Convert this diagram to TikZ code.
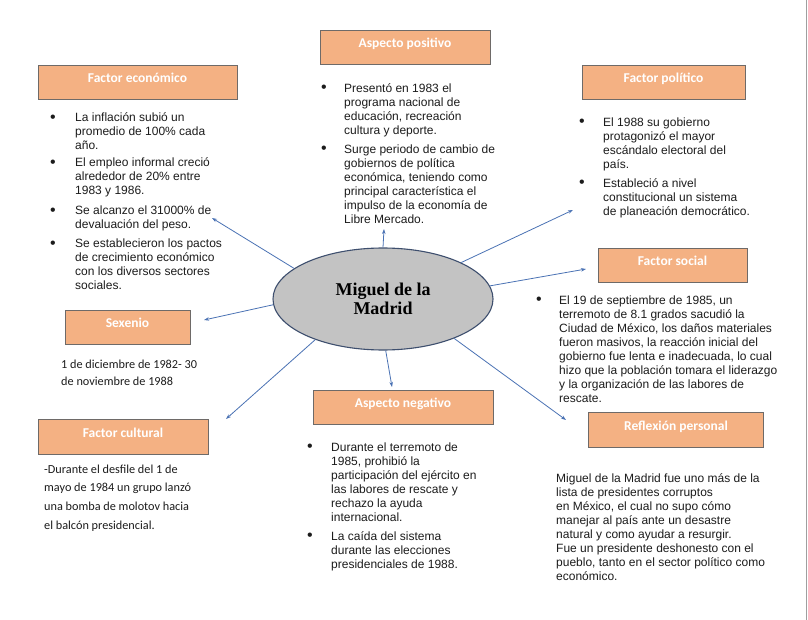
\documentclass[tikz,border=0pt]{standalone}
\usepackage{fontspec}
\setmainfont{Liberation Sans}
\newfontfamily\calibrifont{Carlito}
\newfontfamily\hubfont{Liberation Serif}
\usetikzlibrary{arrows.meta,shapes.geometric}
\definecolor{BoxOrange}{HTML}{F4B183}
\definecolor{BoxEdge}{HTML}{6E6A68}
\definecolor{LinkBlue}{HTML}{4A72B4}
\definecolor{HubGrey}{HTML}{C3C3C3}
\definecolor{HubEdge}{HTML}{3E4F6E}
\definecolor{InkGrey}{HTML}{1C1C1C}
\newcommand{\bul}{\leavevmode\raisebox{-0.5pt}[0pt][0pt]{\fontsize{16}{14}\selectfont\textbullet}}

\tikzset{
  header/.style={draw=BoxEdge, fill=BoxOrange, line width=0.8pt,
    inner xsep=0pt, inner ysep=7.25pt, text height=10pt, text depth=10pt,
    font=\calibrifont\bfseries\fontsize{13.5}{15}\selectfont, text=white},
  bodytext/.style={inner sep=0pt, anchor=base west, text=InkGrey,
    font=\fontsize{12}{14}\selectfont},
  plaintext/.style={inner sep=0pt, anchor=base west, text=InkGrey,
    font=\calibrifont\fontsize{12.25}{#1}\selectfont},
  hub/.style={ellipse, draw=HubEdge, fill=HubGrey, line width=1.1pt,
    minimum width=220pt, minimum height=102pt, inner sep=0pt,
    align=center, font=\hubfont\bfseries\fontsize{18}{19.5}\selectfont},
  link/.style={draw=LinkBlue, line width=0.8pt,
    -{Stealth[length=5pt,width=3.5pt]}},
}

\begin{document}
\begin{tikzpicture}[x=1pt, y=-1pt]
  \path[use as bounding box, fill=white] (0,0) rectangle (808,620);
  \draw[gray!75, line width=1pt] (806.5,0) -- (806.5,620);

  % central idea
  \node[hub] (mdm) at (383,299) {Miguel de la\\Madrid};

  % headers
  \node[header, minimum width=199pt] (eco) at (137.5,82.5) {Factor económico};
  \node[header, minimum width=170pt] (pos) at (405,47.5) {Aspecto positivo};
  \node[header, minimum width=163pt] (pol) at (663.5,82.5) {Factor político};
  \node[header, minimum width=149pt] (soc) at (672.5,265.5) {Factor social};
  \node[header, minimum width=125pt] (sex) at (127.5,327.5) {Sexenio};
  \node[header, minimum width=170pt] (cul) at (123,437) {Factor cultural};
  \node[header, minimum width=180pt] (neg) at (403,407.5) {Aspecto negativo};
  \node[header, minimum width=175pt] (ref) at (676,430) {Reflexión personal};

  % texts
  \node[bodytext] (eco-txt) at (50,122) {%
    \begin{tabular}[t]{@{}p{25pt}@{}l@{}}
      \bul & La inflación subió un\\
           & promedio de 100\% cada\\
           & año.\\[3pt]
      \bul & El empleo informal creció\\
           & alrededor de 20\% entre\\
           & 1983 y 1986.\\[6pt]
      \bul & Se alcanzo el 31000\% de\\
           & devaluación del peso.\\[5pt]
      \bul & Se establecieron los pactos\\
           & de crecimiento económico\\
           & con los diversos sectores\\
           & sociales.
    \end{tabular}};
  \node[bodytext] (pos-txt) at (321,92.5) {%
    \begin{tabular}[t]{@{}p{23pt}@{}l@{}}
      \bul & Presentó en 1983 el\\
           & programa nacional de\\
           & educación, recreación\\
           & cultura y deporte.\\[5pt]
      \bul & Surge periodo de cambio de\\
           & gobiernos de política\\
           & económica, teniendo como\\
           & principal característica el\\
           & impulso de la economía de\\
           & Libre Mercado.
    \end{tabular}};
  \node[bodytext] (pol-txt) at (579,126.5) {%
    \begin{tabular}[t]{@{}p{24pt}@{}l@{}}
      \bul & El 1988 su gobierno\\
           & protagonizó el mayor\\
           & escándalo electoral del\\
           & país.\\[5pt]
      \bul & Estableció a nivel\\
           & constitucional un sistema\\
           & de planeación democrático.
    \end{tabular}};
  \node[bodytext] (soc-txt) at (536,304.5) {%
    \begin{tabular}[t]{@{}p{23pt}@{}l@{}}
      \bul & El 19 de septiembre de 1985, un\\
           & terremoto de 8.1 grados sacudió la\\
           & Ciudad de México, los daños materiales\\
           & fueron masivos, la reacción inicial del\\
           & gobierno fue lenta e inadecuada, lo cual\\
           & hizo que la población tomara el liderazgo\\
           & y la organización de las labores de\\
           & rescate.
    \end{tabular}};
  \node[bodytext] (neg-txt) at (307,451) {%
    \begin{tabular}[t]{@{}p{24pt}@{}l@{}}
      \bul & Durante el terremoto de\\
           & 1985, prohibió la\\
           & participación del ejército en\\
           & las labores de rescate y\\
           & rechazo la ayuda\\
           & internacional.\\[5pt]
      \bul & La caída del sistema\\
           & durante las elecciones\\
           & presidenciales de 1988.
    \end{tabular}};
  \node[bodytext] (ref-txt) at (556,482.5) {%
    \begin{tabular}[t]{@{}l@{}}
      Miguel de la Madrid fue uno más de la\\
      lista de presidentes corruptos\\
      en México, el cual no supo cómo\\
      manejar al país ante un desastre\\
      natural y como ayudar a resurgir.\\
      Fue un presidente deshonesto con el\\
      pueblo, tanto en el sector político como\\
      económico.
    \end{tabular}};
  \node[plaintext=17pt] (sex-txt) at (61,368.5) {%
    \begin{tabular}[t]{@{}l@{}}
      1 de diciembre de 1982- 30\\
      de noviembre de 1988
    \end{tabular}};
  \node[plaintext=18.7pt] (cul-txt) at (44,473) {%
    \begin{tabular}[t]{@{}l@{}}
      -Durante el desfile del 1 de\\
      mayo de 1984 un grupo lanzó\\
      una bomba de molotov hacia\\
      el balcón presidencial.
    \end{tabular}};

  % arrow ends
  \coordinate (eco-tip) at (212,218);
  \coordinate (pos-tip) at (384,229);
  \coordinate (pol-tip) at (573,210);
  \coordinate (soc-tip) at (586,269);
  \coordinate (ref-tip) at (566,420);
  \coordinate (neg-tip) at (392,387);
  \coordinate (cul-tip) at (226,419);
  \coordinate (sex-tip) at (204,320);

  \draw[link] (mdm.161) -- (eco-tip);
  \draw[link] (mdm.90) -- (pos-tip);
  \draw[link] (mdm.25) -- (pol-tip);
  \draw[link] (mdm.7.5) -- (soc-tip);
  \draw[link] (mdm.-29) -- (ref-tip);
  \draw[link] (mdm.-87) -- (neg-tip);
  \draw[link] (mdm.211) -- (cul-tip);
  \draw[link] (mdm.183) -- (sex-tip);
\end{tikzpicture}
\end{document}
